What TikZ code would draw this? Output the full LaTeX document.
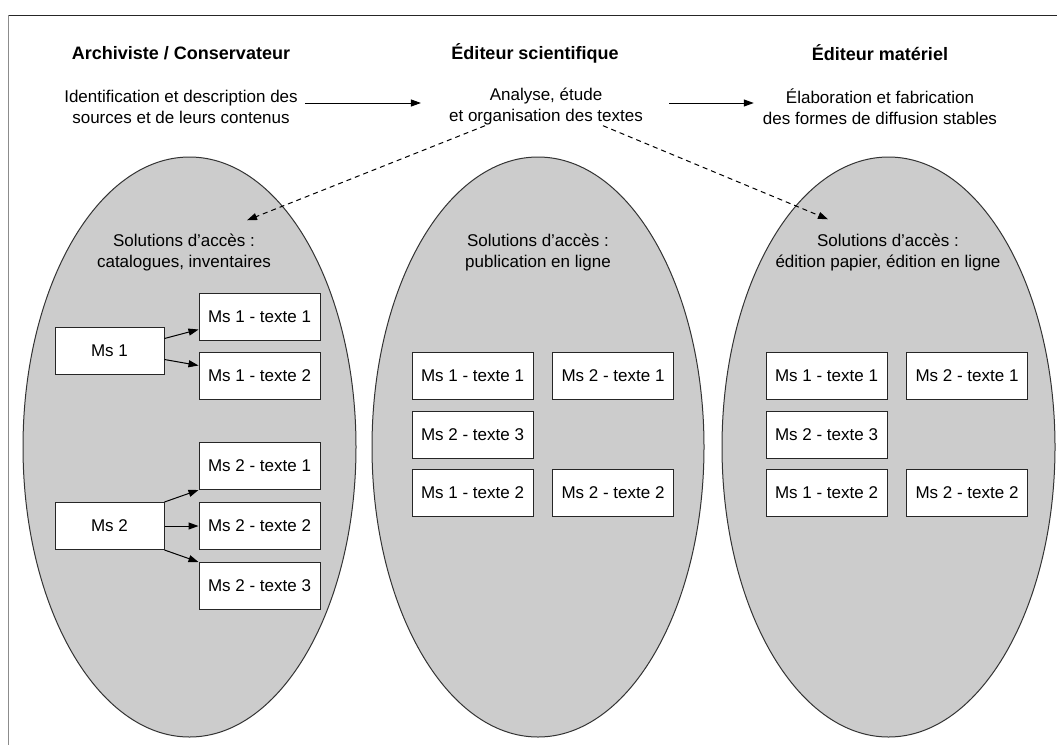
\documentclass[tikz,border=0pt]{standalone}
\usepackage{fontspec}
\setmainfont{Liberation Sans}
\usetikzlibrary{arrows.meta}

\begin{document}
\begin{tikzpicture}[x=1pt,y=1pt,
		txt/.style={align=center,inner sep=0pt,font=\fontsize{17}{21}\selectfont},
		titre/.style={inner sep=0pt,font=\fontsize{18}{22}\selectfont\bfseries},
		boite/.style={draw=black!85,line width=1pt,fill=white,minimum width=121,minimum height=47,inner sep=0pt,font=\fontsize{17}{21}\selectfont},
		fleche/.style={line width=1pt,-{Triangle[length=10pt,width=7pt]}},
		pointille/.style={fleche,dash pattern=on 5pt off 4pt},
		bulle/.style={fill=black!20,draw=black!80,line width=1pt}]
		\useasboundingbox (0,0) rectangle (1057,-745);
		\draw[black!85,line width=1pt] (8,-15) to (1057,-15);
		\draw[black!45,line width=1pt] (8,-15) to (8,-745);
		
		\filldraw[bulle] (189.5,-447) ellipse (166.5 and 290);
		\filldraw[bulle] (538,-447) ellipse (166 and 290);
		\filldraw[bulle] (888.5,-447) ellipse (166.5 and 290);
		
		\node[titre] (archi) at (181,-53) {Archiviste / Conservateur};
		\node[titre] (edsci) at (535,-53) {Éditeur scientifique};
		\node[titre] (edmat) at (880,-53) {Éditeur matériel};
		
		\node[txt] (ident) at (181,-107) {Identification et description des\\sources et de leurs contenus};
		\node[txt] (anal) at (546,-107) {Analyse, étude\\et organisation des textes};
		\node[txt] (elab) at (880,-107) {Élaboration et fabrication\\des formes de diffusion stables};
		\draw[fleche] ([shift={(7,4)}]ident.east) to ([shift={(-28,4)}]anal.west);
		\draw[fleche] ([shift={(26,4)}]anal.east) to ([shift={(-9,4)}]elab.west);
		
		\node[txt] (sol1) at (184,-252) {Solutions d’accès :\\catalogues, inventaires};
		\node[txt] (sol2) at (538,-252) {Solutions d’accès :\\publication en ligne};
		\node[txt] (sol3) at (888,-252) {Solutions d’accès :\\édition papier, édition en ligne};
		\draw[pointille] ([xshift=-61]anal.south) to ([shift={(63,13)}]sol1.north);
		\draw[pointille] ([xshift=57]anal.south) to ([shift={(-60,14)}]sol3.north);
		
		% archiviste
		\node[boite,minimum width=109] (ms1) at (109.5,-350.5) {Ms 1};
		\node[boite] (a11) at (259.5,-316.5) {Ms 1 - texte 1};
		\node[boite] (a12) at (259.5,-375.5) {Ms 1 - texte 2};
		\node[boite,minimum width=109] (ms2) at (109.5,-526) {Ms 2};
		\node[boite] (a21) at (259.5,-466) {Ms 2 - texte 1};
		\node[boite] (a22) at (259.5,-526) {Ms 2 - texte 2};
		\node[boite] (a23) at (259.5,-586) {Ms 2 - texte 3};
		\draw[fleche] ([yshift=12]ms1.east) to ([yshift=-13]a11.west);
		\draw[fleche] ([yshift=-9]ms1.east) to ([yshift=10]a12.west);
		\draw[fleche] (ms2.north east) to (a21.south west);
		\draw[fleche] (ms2.east) to (a22.west);
		\draw[fleche] (ms2.south east) to (a23.north west);
		
		% editeur scientifique
		\node[boite] (b11) at (472.5,-375.5) {Ms 1 - texte 1};
		\node[boite] (b21) at (613,-375.5) {Ms 2 - texte 1};
		\node[boite] (b23) at (472.5,-434.5) {Ms 2 - texte 3};
		\node[boite] (b12) at (472.5,-492.5) {Ms 1 - texte 2};
		\node[boite] (b22) at (613,-492.5) {Ms 2 - texte 2};
		
		% editeur materiel
		\node[boite] (c11) at (826.5,-375.5) {Ms 1 - texte 1};
		\node[boite] (c21) at (967,-375.5) {Ms 2 - texte 1};
		\node[boite] (c23) at (826.5,-434.5) {Ms 2 - texte 3};
		\node[boite] (c12) at (826.5,-492.5) {Ms 1 - texte 2};
		\node[boite] (c22) at (967,-492.5) {Ms 2 - texte 2};
	\end{tikzpicture}
\end{document}
